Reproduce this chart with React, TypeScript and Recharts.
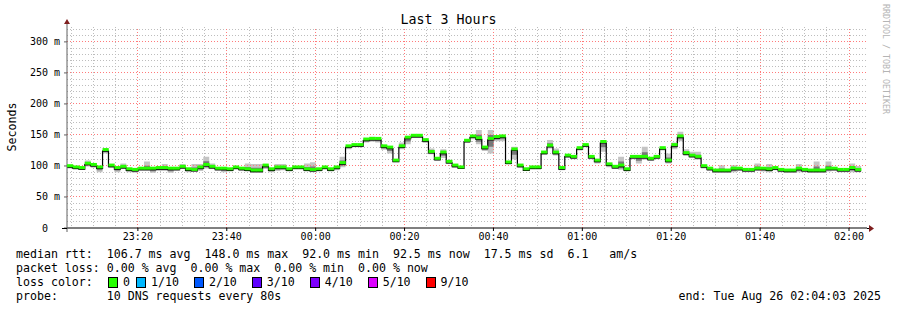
import React from 'react';
import {
  ComposedChart,
  Area,
  Line,
  XAxis,
  YAxis,
  CartesianGrid,
  ReferenceLine,
} from 'recharts';

// median rtt per 80s probe round (ms)
const median = [
  98, 96, 95, 102, 100, 96, 124, 99, 95, 97, 93, 92, 94, 94, 94, 95, 95, 94, 94, 97, 93, 92, 96, 100, 97, 94, 94, 93,
  96, 94, 93, 91, 91, 99, 93, 96, 96, 93, 96, 96, 93, 92, 93, 96, 93, 96, 103, 130, 132, 132, 141, 142, 142, 130, 128,
  107, 130, 144, 147, 147, 140, 121, 110, 120, 105, 99, 96, 139, 146, 143, 128, 142, 145, 146, 104, 125, 99, 93, 96, 96, 120, 131,
  120, 95, 115, 113, 127, 132, 113, 107, 137, 101, 97, 99, 93, 113, 113, 113, 110, 113, 127, 107, 132, 146, 119, 115, 113, 98, 94,
  91, 91, 91, 94, 94, 92, 92, 94, 94, 93, 95, 92, 91, 91, 94, 92, 91, 91, 91, 94, 94, 92, 92, 95, 92,
];

// lowest / highest ping of each round (the smoke)
const smokeLo = [
  96, 94, 94, 99, 97, 90, 120, 97, 90, 95, 90, 89, 92, 92, 89, 92, 92, 89, 92, 95, 90, 91, 92, 96, 95, 92, 90, 91,
  94, 92, 91, 89, 89, 95, 90, 92, 93, 91, 94, 94, 91, 90, 91, 94, 91, 93, 98, 127, 130, 130, 138, 139, 138, 126, 120,
  106, 127, 135, 145, 145, 137, 119, 108, 113, 103, 97, 95, 137, 143, 135, 124, 120, 140, 140, 102, 111, 97, 92, 94, 94, 118, 128,
  117, 93, 113, 111, 125, 130, 111, 104, 123, 98, 95, 94, 91, 111, 104, 110, 108, 111, 125, 104, 127, 140, 116, 113, 110, 96, 92,
  89, 89, 89, 90, 92, 90, 90, 92, 91, 90, 93, 90, 89, 89, 90, 90, 89, 89, 89, 91, 92, 90, 90, 90, 90,
];
const smokeHi = [
  101, 98, 96, 109, 104, 98, 126, 101, 100, 104, 97, 94, 95, 107, 95, 97, 103, 96, 95, 103, 95, 103, 103, 115, 104, 96, 95, 96,
  100, 96, 104, 103, 103, 103, 96, 103, 103, 95, 98, 97, 104, 106, 95, 97, 95, 98, 115, 132, 133, 133, 145, 147, 143, 132, 130,
  109, 138, 146, 149, 148, 142, 128, 113, 127, 107, 101, 97, 141, 150, 158, 131, 158, 150, 148, 106, 131, 101, 95, 97, 98, 122, 142,
  128, 97, 118, 115, 130, 135, 116, 110, 142, 104, 101, 115, 95, 116, 116, 131, 112, 116, 129, 120, 138, 155, 127, 123, 123, 101, 98,
  94, 101, 94, 101, 96, 94, 94, 104, 96, 103, 98, 94, 93, 93, 103, 95, 94, 107, 94, 107, 97, 94, 93, 104, 100,
];

const timeLabels = ['23:20', '23:40', '00:00', '00:20', '00:40', '01:00', '01:20', '01:40', '02:00'];
const yTicks = [0, 50, 100, 150, 200, 250, 300];

const lossColors = [
  { label: '0', color: '#26ff00' },
  { label: '1/10', color: '#00b8ff' },
  { label: '2/10', color: '#0059ff' },
  { label: '3/10', color: '#5e00ff' },
  { label: '4/10', color: '#7e00ff' },
  { label: '5/10', color: '#dd00ff' },
  { label: '9/10', color: '#ff0000' },
];

const START_MIN = 23 * 60 + 4 + 3 / 60; // 23:04:03
const SPAN_MIN = 180;
const STEP_MIN = 80 / 60;
const PLOT_LEFT = 67;
const PLOT_RIGHT = 867;
const PLOT_TOP = 27;
const PLOT_BOTTOM = 228;
const STEP_PX = ((PLOT_RIGHT - PLOT_LEFT) / SPAN_MIN) * STEP_MIN;
const MONO = '"DejaVu Sans Mono", monospace';
const MAJOR_GRID = '#ff7a7a';

const clockToOffset = (label: string) => {
  const [h, m] = label.split(':').map(Number);
  let mins = h * 60 + m;
  if (mins < START_MIN - 60) mins += 24 * 60;
  return mins - START_MIN;
};

// grid: minor every 5 min / 10 ms, major every 20 min / 50 ms
const majorX = timeLabels.map(clockToOffset);
const minorX: number[] = [];
for (let m = 23 * 60 + 5; m < START_MIN + SPAN_MIN; m += 5) if (m % 20 !== 0) minorX.push(m - START_MIN);
const minorY: number[] = [];
for (let v = 10; v <= 320; v += 10) if (v % 50 !== 0) minorY.push(v);

const rows = median.map((m, i) => ({
  t: i * STEP_MIN,
  median: m,
  dash: m,
  smoke: [smokeLo[i], smokeHi[i]],
  core: [(smokeLo[i] + m) / 2, (smokeHi[i] + m) / 2],
}));
// closing row so the last step gets its width
const last = rows[rows.length - 1];
rows.push({ ...last, t: rows.length * STEP_MIN, dash: undefined as unknown as number });

const YTick = (props: any) => {
  const { x, y, payload } = props;
  const v = payload.value;
  return (
    <text
      x={x}
      y={y}
      textAnchor="end"
      dominantBaseline="central"
      fontFamily={MONO}
      fontSize={10}
      fill="#000"
      style={{ whiteSpace: 'pre' }}
    >
      {v === 0 ? '0  ' : `${v} m`}
    </text>
  );
};

const GreenDash = (props: any) => {
  const { cx, cy, index } = props;
  if (cx == null || cy == null || rows[index].dash === undefined) return <g key={`d${index}`} />;
  return <rect key={`d${index}`} x={cx} y={cy - 3} width={STEP_PX + 0.3} height={3} fill="#26ff00" />;
};

const textRow = (top: number): React.CSSProperties => ({
  position: 'absolute',
  left: 16,
  top,
  fontSize: 11.6,
  lineHeight: '14px',
  whiteSpace: 'pre',
});

export default function App() {
  return (
    <div
      style={{
        position: 'absolute',
        left: 0,
        top: 0,
        width: 897,
        height: 310,
        background: '#fff',
        fontFamily: MONO,
        color: '#000',
      }}
    >
      <div
        style={{ position: 'absolute', left: 0, width: 897, top: 11, textAlign: 'center', fontSize: 13.3, lineHeight: '18px' }}
      >
        Last 3 Hours
      </div>

      <ComposedChart
        width={897}
        height={310}
        data={rows}
        margin={{ top: PLOT_TOP, right: 897 - PLOT_RIGHT, bottom: 310 - PLOT_BOTTOM - 30, left: PLOT_LEFT - 60 }}
      >
        <CartesianGrid
          horizontalValues={minorY}
          verticalValues={minorX}
          stroke="#bdbdbd"
          strokeDasharray="1 2"
          shapeRendering="crispEdges"
        />
        {yTicks
          .filter((v) => v > 0)
          .map((v) => (
            <ReferenceLine
              key={`h${v}`}
              y={v}
              stroke={MAJOR_GRID}
              strokeDasharray="1 2"
              shapeRendering="crispEdges"
            />
          ))}
        {majorX.map((v) => (
          <ReferenceLine
            key={`v${v}`}
            x={v}
            stroke={MAJOR_GRID}
            strokeDasharray="1 2"
            shapeRendering="crispEdges"
          />
        ))}
        <XAxis
          dataKey="t"
          type="number"
          domain={[0, SPAN_MIN]}
          ticks={majorX}
          tickFormatter={(v: number) => timeLabels[majorX.indexOf(v)] ?? ''}
          interval={0}
          height={30}
          tickSize={3}
          tickMargin={2}
          axisLine={{ stroke: '#000' }}
          tickLine={{ stroke: '#000' }}
          tick={{ fontFamily: MONO, fontSize: 10, fill: '#000' }}
          allowDataOverflow
        />
        <YAxis
          type="number"
          domain={[0, 324]}
          ticks={yTicks}
          interval={0}
          width={60}
          tickSize={3}
          tickMargin={4}
          axisLine={{ stroke: '#606060' }}
          tickLine={{ stroke: '#606060' }}
          tick={<YTick />}
          allowDataOverflow
        />
        <Area
          dataKey="smoke"
          type="stepAfter"
          stroke="none"
          fill="#c4c4c4"
          fillOpacity={1}
          isAnimationActive={false}
        />
        <Area
          dataKey="core"
          type="stepAfter"
          stroke="none"
          fill="#777777"
          fillOpacity={1}
          isAnimationActive={false}
        />
        <Line
          dataKey="median"
          type="stepAfter"
          stroke="#000"
          strokeWidth={1.2}
          dot={false}
          activeDot={false}
          isAnimationActive={false}
        />
        <Line
          dataKey="dash"
          type="stepAfter"
          stroke="none"
          dot={GreenDash}
          activeDot={false}
          isAnimationActive={false}
        />
      </ComposedChart>

      <svg width={897} height={310} style={{ position: 'absolute', left: 0, top: 0, pointerEvents: 'none' }}>
        <line x1={PLOT_LEFT} y1={22} x2={PLOT_LEFT} y2={PLOT_TOP} stroke="#606060" />
        <line x1={PLOT_LEFT} y1={PLOT_BOTTOM} x2={PLOT_LEFT} y2={232} stroke="#606060" />
        <line x1={62} y1={PLOT_BOTTOM + 0.5} x2={PLOT_LEFT} y2={PLOT_BOTTOM + 0.5} stroke="#000" />
        <line x1={PLOT_RIGHT} y1={PLOT_BOTTOM + 0.5} x2={871} y2={PLOT_BOTTOM + 0.5} stroke="#000" />
        <polygon points={`${PLOT_LEFT - 3},24 ${PLOT_LEFT + 3},24 ${PLOT_LEFT},19`} fill="#7f1f1f" />
        <polygon points="869,225 869,232 874,228.5" fill="#7f1f1f" />
        <text
          x={886}
          y={4}
          transform="rotate(90 886 4)"
          fontFamily={MONO}
          fontSize={8.3}
          fill="#b4b4b4"
          dominantBaseline="central"
        >
          RRDTOOL / TOBI OETIKER
        </text>
        <text
          x={12}
          y={127}
          transform="rotate(-90 12 127)"
          fontFamily={MONO}
          fontSize={11.6}
          textAnchor="middle"
          dominantBaseline="central"
          fill="#000"
        >
          Seconds
        </text>
      </svg>

      <div style={textRow(247)}>
        {'median rtt:  106.7 ms avg  148.0 ms max  92.0 ms min  92.5 ms now  17.5 ms sd  6.1   am/s'}
      </div>
      <div style={textRow(261)}>{'packet loss: 0.00 % avg  0.00 % max  0.00 % min  0.00 % now'}</div>
      <div style={{ ...textRow(275), display: 'flex', alignItems: 'center' }}>
        <span style={{ width: 92 }}>loss color:</span>
        {lossColors.map((c) => (
          <span
            key={c.label}
            style={{ display: 'flex', alignItems: 'center', marginRight: c.label.length > 1 ? 15 : 6 }}
          >
            <span
              style={{
                display: 'inline-block',
                width: 8,
                height: 9,
                background: c.color,
                border: '1px solid #000',
                marginRight: 5,
              }}
            />
            {c.label}
          </span>
        ))}
      </div>
      <div style={textRow(289)}>{'probe:       10 DNS requests every 80s'}</div>
      <div style={{ ...textRow(289), left: undefined, right: 16 }}>{'end: Tue Aug 26 02:04:03 2025'}</div>
    </div>
  );
}
